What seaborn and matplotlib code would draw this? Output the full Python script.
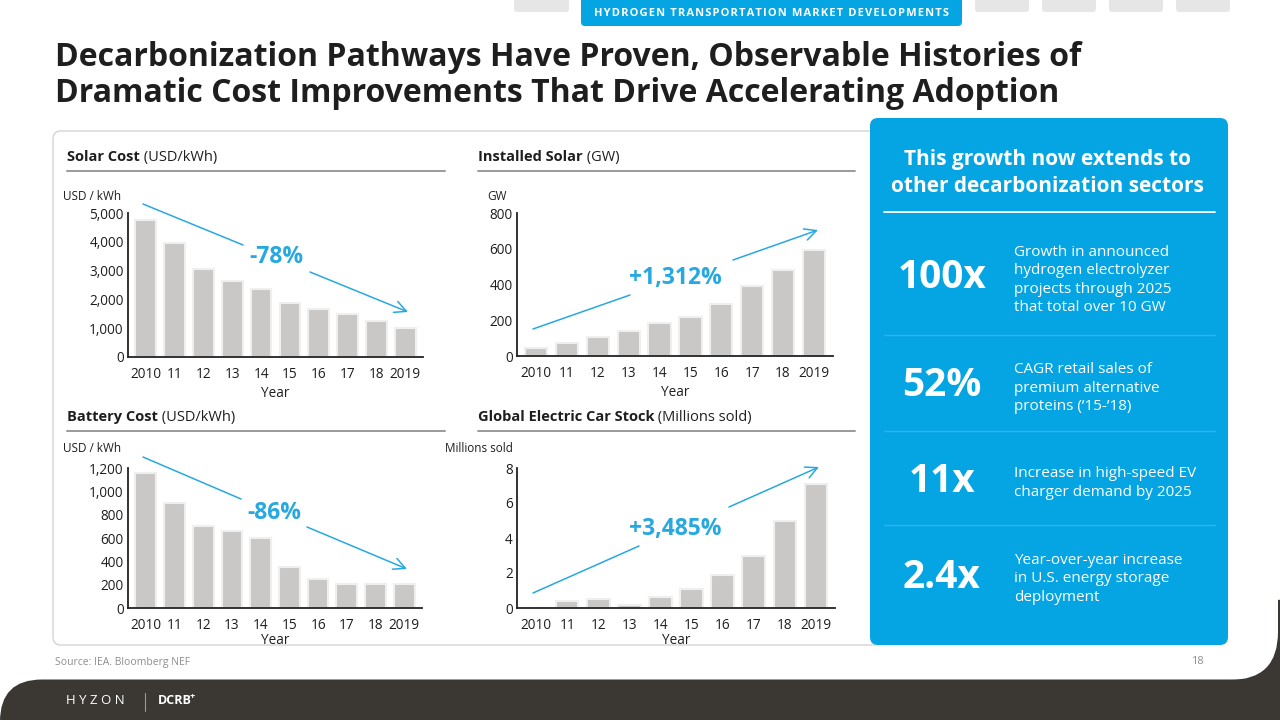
import numpy as np
import pandas as pd
import matplotlib
matplotlib.use("Agg")
import matplotlib.pyplot as plt
from matplotlib.patches import FancyBboxPatch, Rectangle
from matplotlib.ticker import FuncFormatter
import seaborn as sns

# ---- data ----
years = ['2010', '11', '12', '13', '14', '15', '16', '17', '18', '2019']
solar_cost = [4740, 3950, 3070, 2650, 2350, 1860, 1660, 1480, 1260, 1000]
installed_solar = [43, 73, 108, 142, 183, 220, 292, 393, 482, 591]
battery_cost = [1157, 904, 701, 656, 599, 351, 251, 205, 205, 205]
ev_stock = [0.0, 0.38, 0.49, 0.19, 0.65, 1.06, 1.86, 3.0, 5.0, 7.09]

solar_ticks = [0, 1000, 2000, 3000, 4000, 5000]
installed_ticks = [0, 200, 400, 600, 800]
battery_ticks = [0, 200, 400, 600, 800, 1000, 1200]
ev_ticks = [0, 2, 4, 6, 8]

pct_labels = ['-78%', '+1,312%', '-86%', '+3,485%']

stat_numbers = ['100x', '52%', '11x', '2.4x']
stat_texts = [
    'Growth in announced\nhydrogen electrolyzer\nprojects through 2025\nthat total over 10 GW',
    'CAGR retail sales of\npremium alternative\nproteins (\u201915-\u201918)',
    'Increase in high-speed EV\ncharger demand by 2025',
    'Year-over-year increase\nin U.S. energy storage\ndeployment',
]

BLUE = '#05a5e4'
ACCENT = '#27a8e0'
BAR = '#c9c8c7'
DARK = '#3b3834'
INK = '#1e1e1e'

sns.set_theme(style='white')
plt.rcParams['font.family'] = ['Open Sans', 'DejaVu Sans']

W, H = 1280, 720
fig = plt.figure(figsize=(12.8, 7.2), dpi=100)
fig.patch.set_facecolor('white')

# background overlay in pixel coordinates
bg = fig.add_axes([0, 0, 1, 1], zorder=0)
bg.set_xlim(0, W)
bg.set_ylim(H, 0)
bg.axis('off')

# footer shapes: white card with rounded lower-right corner over a dark base
bg.add_patch(Rectangle((1150, 600), 140, 130, color=DARK, zorder=1))
bg.add_patch(FancyBboxPatch((-100, -100), 1378, 780,
                            boxstyle='round,pad=0,rounding_size=48',
                            fc='white', ec='none', zorder=2))
bg.add_patch(FancyBboxPatch((0, 679.5), 1400, 120,
                            boxstyle='round,pad=0,rounding_size=42',
                            fc=DARK, ec='none', zorder=3))

# top navigation tabs
for x0, x1 in [(514, 569), (975, 1029), (1042, 1096), (1109, 1163), (1176, 1230)]:
    bg.add_patch(FancyBboxPatch((x0, -6), x1 - x0, 18,
                                boxstyle='round,pad=0,rounding_size=3',
                                fc='#e6e6e6', ec='none', zorder=2))
bg.add_patch(FancyBboxPatch((581, -10), 381, 36,
                            boxstyle='round,pad=0,rounding_size=4',
                            fc=BLUE, ec='none', zorder=4))
tab_title = 'HYDROGEN TRANSPORTATION MARKET DEVELOPMENTS'
bg.text(772, 14, '\u200a'.join(tab_title), color='white',
        fontsize=8, fontweight='bold', ha='center', va='center', zorder=5)

# title
bg.text(55, 57, 'Decarbonization Pathways Have Proven, Observable Histories of',
        fontsize=23, fontweight='bold', color=INK, ha='left', va='center', zorder=5)
bg.text(55, 93, 'Dramatic Cost Improvements That Drive Accelerating Adoption',
        fontsize=23, fontweight='bold', color=INK, ha='left', va='center', zorder=5)

# left panel frame
bg.add_patch(FancyBboxPatch((53, 131), 830, 514,
                            boxstyle='round,pad=0,rounding_size=8',
                            fc='white', ec='#d4d4d4', lw=1, zorder=4))

# right blue panel
bg.add_patch(FancyBboxPatch((870, 118), 358, 527,
                            boxstyle='round,pad=0,rounding_size=8',
                            fc=BLUE, ec='none', zorder=5))
bg.text(1047, 160, 'This growth now extends to', color='white', fontsize=15,
        fontweight='bold', ha='center', va='center', zorder=6)
bg.text(1047, 186, 'other decarbonization sectors', color='white', fontsize=15,
        fontweight='bold', ha='center', va='center', zorder=6)
bg.plot([884, 1215], [212, 212], color='white', lw=1.3, zorder=6)
for yy in [335, 431, 525]:
    bg.plot([884, 1215], [yy, yy], color='#2fb3ea', lw=1, zorder=6)

num_y = [278, 385, 482, 577]
txt_y = [280, 388, 483, 579]
for n, t, ny, ty in zip(stat_numbers, stat_texts, num_y, txt_y):
    bg.text(942, ny, n, color='white', fontsize=28, fontweight='bold',
            ha='center', va='center', zorder=6)
    bg.text(1014, ty, t, color='white', fontsize=11, ha='left', va='center',
            linespacing=1.33, zorder=6)

# section headers
headers = [(67, 157, 'Solar Cost', ' (USD/kWh)', 445),
           (478, 157, 'Installed Solar', ' (GW)', 855),
           (67, 417, 'Battery Cost', ' (USD/kWh)', 445),
           (478, 417, 'Global Electric Car Stock', ' (Millions sold)', 855)]
for x, y, bold, reg, x1 in headers:
    tb = bg.text(x, y, bold, fontsize=10.5, fontweight='bold', color=INK,
                 ha='left', va='center', zorder=6)
    bg.annotate(reg, xy=(1, 0.5), xycoords=tb, fontsize=10.5, color=INK,
                ha='left', va='center', zorder=6)
    bg.plot([x, x1], [y + 14, y + 14], color='#9a9a9a', lw=1.4, zorder=6)

# unit labels
bg.text(63, 197, 'USD / kWh', fontsize=8.5, color=INK, ha='left', va='center', zorder=6)
bg.text(487, 197, 'GW', fontsize=8.5, color=INK, ha='left', va='center', zorder=6)
bg.text(63, 449, 'USD / kWh', fontsize=8.5, color=INK, ha='left', va='center', zorder=6)
bg.text(445, 449, 'Millions sold', fontsize=8.5, color=INK, ha='left', va='center', zorder=6)

# footer texts
bg.text(55, 662, 'Source: IEA. Bloomberg NEF', fontsize=7.5, color='#8e8e8e',
        ha='left', va='center', zorder=6)
bg.text(1197, 662, '18', fontsize=8, color='#8e8e8e', ha='center', va='center', zorder=6)
bg.text(66, 701, 'H Y Z O N', fontsize=9.5, color='white', ha='left', va='center', zorder=6)
bg.plot([145, 145], [693, 711], color='#9a9a9a', lw=0.8, zorder=6)
bg.text(158, 701, 'DCRB', fontsize=9, color='white', fontweight='bold',
        ha='left', va='center', zorder=6)
bg.text(190, 696, '+', fontsize=6.5, color='white', fontweight='bold',
        ha='left', va='center', zorder=6)


def px_axes(l, t, r, b):
    return fig.add_axes([l / W, 1 - b / H, (r - l) / W, (b - t) / H], zorder=2)


def bar_chart(box, values, ticks, fmt, label_pad):
    ax = px_axes(*box)
    ax.set_facecolor('none')
    df = pd.DataFrame({'Year': years, 'value': values})
    sns.barplot(data=df, x='Year', y='value', ax=ax, color=BAR, saturation=1,
                edgecolor='#efefef', linewidth=1.5, width=0.72)
    ax.set_xlim(-0.62, 9.62)
    ax.set_ylim(ticks[0], ticks[-1])
    ax.set_yticks(ticks)
    ax.yaxis.set_major_formatter(FuncFormatter(fmt))
    for s in ['top', 'right']:
        ax.spines[s].set_visible(False)
    for s in ['left', 'bottom']:
        ax.spines[s].set_color('#222222')
        ax.spines[s].set_linewidth(1.3)
    ax.tick_params(axis='x', length=0, labelsize=9.8, colors=INK, pad=7)
    ax.tick_params(axis='y', length=0, labelsize=9.8, colors=INK, pad=3)
    ax.set_ylabel('')
    ax.set_xlabel('Year', fontsize=9.8, color=INK, labelpad=label_pad)
    return ax


comma = lambda v, p: f'{int(v):,}'
bar_chart((128, 213, 423, 357), solar_cost, solar_ticks, comma, 3)
bar_chart((517, 213, 833, 356), installed_solar, installed_ticks, comma, 3)
bar_chart((128, 468, 422, 608), battery_cost, battery_ticks, comma, 0)
bar_chart((517, 468, 835, 608), ev_stock, ev_ticks, comma, 0)

# foreground overlay for trend arrows
fg = fig.add_axes([0, 0, 1, 1], zorder=3)
fg.set_xlim(0, W)
fg.set_ylim(H, 0)
fg.axis('off')
fg.patch.set_alpha(0)

arrows = [((143, 204), (243, 245), (276, 257), (310, 272), (408, 312)),
          ((533, 329), (630, 295), (675, 278), (733, 260), (818, 230)),
          ((143, 457), (241, 499), (274, 513), (307, 527), (407, 569)),
          ((533, 593), (639, 546), (675, 529), (729, 507), (819, 467))]
for (p0, p1, pl, p2, p3), lab in zip(arrows, pct_labels):
    fg.plot([p0[0], p1[0]], [p0[1], p1[1]], color=ACCENT, lw=1.1)
    fg.annotate('', xy=p3, xytext=p2,
                arrowprops=dict(arrowstyle='->,head_length=0.7,head_width=0.35',
                                color=ACCENT, lw=1.1, shrinkA=0, shrinkB=0))
    fg.text(pl[0], pl[1], lab, color=ACCENT, fontsize=16.5, fontweight='bold',
            ha='center', va='center')

fig.savefig('out.png', dpi=100)
